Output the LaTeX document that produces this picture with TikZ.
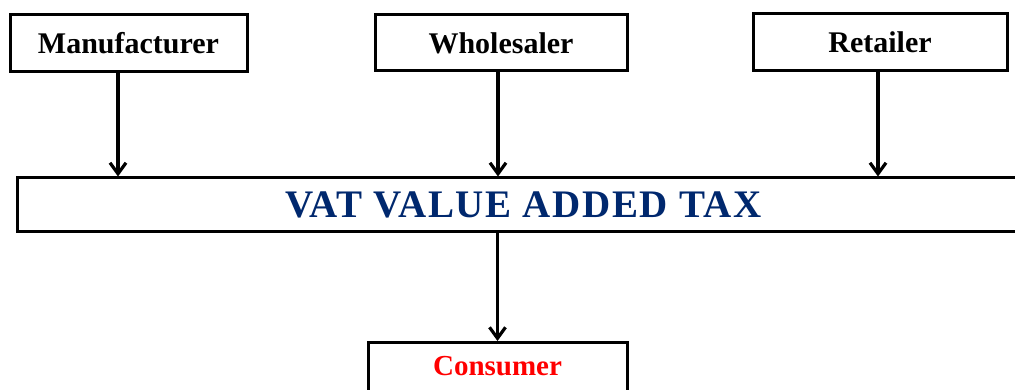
\documentclass[tikz,border=0pt]{standalone}
\usepackage{fontspec}
\setmainfont{Liberation Serif}
\newfontfamily\vatfont[LetterSpace=4]{Liberation Serif}
\usetikzlibrary{arrows.meta}
\definecolor{vatblue}{RGB}{0,40,110}
\definecolor{consred}{RGB}{255,0,0}
\tikzset{
  topbox/.style={draw=black, line width=3pt, fill=white, rectangle, inner sep=0pt,
    font=\fontsize{30}{36}\selectfont\bfseries},
  conn/.style={line width=3.2pt, -{Straight Barb[length=11pt,width=16pt,line width=3.2pt]}}
}
\begin{document}
\begin{tikzpicture}[x=1pt,y=-1pt]
\clip (0,0) rectangle (1015,390);
\fill[white] (0,0) rectangle (1015,390);
\node[topbox, minimum width=237pt, minimum height=57pt] (man) at (128.5,43.5) {Manufacturer};
\node[topbox, minimum width=252pt, minimum height=56pt] (whl) at (501,43) {Wholesaler};
\node[topbox, minimum width=254pt, minimum height=57pt] (ret) at (880,42.5) {Retailer};
\node[topbox, minimum width=1013pt, minimum height=54pt, text=vatblue,
      font=\vatfont\fontsize{39}{44}\selectfont\bfseries] (vat) at (523.5,205) {VAT VALUE ADDED TAX};
\node[topbox, anchor=north, minimum width=259pt, text height=20pt, text depth=34pt,
      inner ysep=13pt, text=consred, font=\fontsize{29}{34}\selectfont\bfseries] (cons) at (497.5,341) {Consumer};
\draw[conn] ([xshift=-10.5pt]man.south) -- ([xshift=-10.5pt]man.south |- vat.north);
\draw[conn] ([xshift=-3pt]whl.south) -- ([xshift=-3pt]whl.south |- vat.north);
\draw[conn] ([xshift=-2pt]ret.south) -- ([xshift=-2pt]ret.south |- vat.north);
\draw[conn] (vat.south -| cons.north) -- (cons.north);
\end{tikzpicture}
\end{document}
